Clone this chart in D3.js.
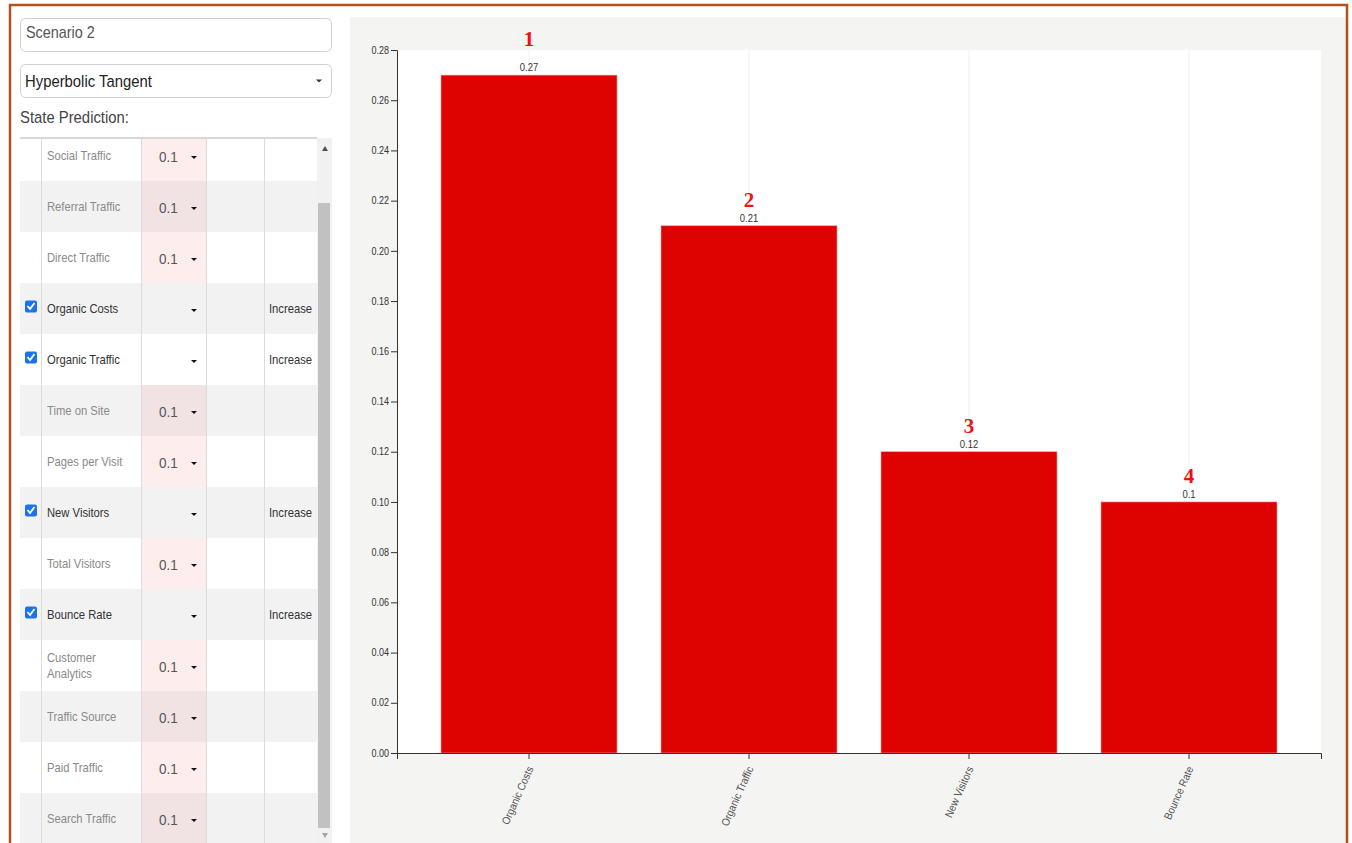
<!DOCTYPE html>
<html>
<head>
<meta charset="utf-8">
<script src="https://cdn.jsdelivr.net/npm/d3@7"></script>
<style>
  html, body { margin: 0; padding: 0; background: #fff; }
  svg { display: block; font-family: "Liberation Sans", Arial, sans-serif; }
</style>
</head>
<body>
<svg id="root" width="1352" height="843"></svg>
<script>
// Chart data: prediction weight per selected state, ranked
const categories = ["Organic Costs", "Organic Traffic", "New Visitors", "Bounce Rate"];
const values = [0.27, 0.21, 0.12, 0.1];
const ranks = [1, 2, 3, 4];
const yTicks = [0, 0.02, 0.04, 0.06, 0.08, 0.10, 0.12, 0.14, 0.16, 0.18, 0.20, 0.22, 0.24, 0.26, 0.28];

// Side panel: state prediction table
const stateNames = ["Social Traffic", "Referral Traffic", "Direct Traffic", "Organic Costs", "Organic Traffic",
  "Time on Site", "Pages per Visit", "New Visitors", "Total Visitors", "Bounce Rate",
  "Customer Analytics", "Traffic Source", "Paid Traffic", "Search Traffic"];
const stateChecked = [false, false, false, true, true, false, false, true, false, true, false, false, false, false];
const stateValues = ["0.1", "0.1", "0.1", "", "", "0.1", "0.1", "", "0.1", "", "0.1", "0.1", "0.1", "0.1"];
const stateActions = ["", "", "", "Increase", "Increase", "", "", "Increase", "", "Increase", "", "", "", ""];
const scenarioName = "Scenario 2";
const activation = "Hyperbolic Tangent";

const svg = d3.select("#root");
const SX = 0.9; // slightly condensed UI text

// text placed at (x, y) and narrowed horizontally around its anchor
function label(g, x, y, str, size, color, anchor) {
  return g.append("text")
    .attr("transform", `translate(${x},${y}) scale(${SX},1)`)
    .attr("font-size", size).attr("fill", color)
    .attr("text-anchor", anchor || "start")
    .text(str);
}

function caret(g, cx, cy, w, h, color) {
  g.append("path")
    .attr("d", `M${cx - w / 2},${cy - h / 2}L${cx + w / 2},${cy - h / 2}L${cx},${cy + h / 2}Z`)
    .attr("fill", color);
}

// ---------- side panel ----------
const panel = svg.append("g");

panel.append("rect").attr("x", 20.5).attr("y", 18.5).attr("width", 311).attr("height", 33)
  .attr("rx", 5).attr("fill", "#fff").attr("stroke", "#d0d0d0");
label(panel, 26, 38, scenarioName, 16, "#555");

panel.append("rect").attr("x", 20.5).attr("y", 64.5).attr("width", 311).attr("height", 33)
  .attr("rx", 5).attr("fill", "#fff").attr("stroke", "#d0d0d0");
label(panel, 25, 87, activation, 16.5, "#222");
caret(panel, 319, 81, 6, 3, "#333");

label(panel, 20, 123, "State Prediction:", 16.5, "#444");

const rowTop = 130, rowH = 51, clipTop = 138;
svg.append("clipPath").attr("id", "tableClip")
  .append("rect").attr("x", 0).attr("y", clipTop).attr("width", 340).attr("height", 843 - clipTop);
const table = panel.append("g").attr("clip-path", "url(#tableClip)");

stateNames.forEach((name, i) => {
  const y = rowTop + i * rowH;
  const shaded = i % 2 === 1;
  table.append("rect").attr("x", 20).attr("y", y).attr("width", 297).attr("height", rowH)
    .attr("fill", shaded ? "#f2f2f2" : "#fff");
  if (stateValues[i]) {
    table.append("rect").attr("x", 141).attr("y", y).attr("width", 65).attr("height", rowH)
      .attr("fill", shaded ? "#f1e3e3" : "#fdeeed");
  }
  const cy = y + rowH / 2;
  if (stateChecked[i]) {
    table.append("rect").attr("x", 25).attr("y", cy - 8).attr("width", 12).attr("height", 12)
      .attr("rx", 2).attr("fill", "#1a73e8");
    table.append("path").attr("d", `M27.5,${cy - 2.5}L30,${cy + 0.5}L34.5,${cy - 5.5}`)
      .attr("fill", "none").attr("stroke", "#fff").attr("stroke-width", 1.8);
  }
  const nameColor = stateChecked[i] ? "#333" : "#8a8a8a";
  const parts = name === "Customer Analytics" ? ["Customer", "Analytics"] : [name];
  const firstBase = parts.length > 1 ? cy - 4 : cy + 4;
  parts.forEach((p, k) => label(table, 47, firstBase + k * 16, p, 12.5, nameColor));
  if (stateValues[i]) label(table, 159, cy + 6.5, stateValues[i], 15, "#555");
  caret(table, 194, cy + 2, 6, 3, "#111");
  if (stateActions[i]) label(table, 269, cy + 4, stateActions[i], 12.5, "#333");
});
[41, 141, 206, 264].forEach(x => {
  table.append("line").attr("x1", x + 0.5).attr("x2", x + 0.5).attr("y1", clipTop).attr("y2", 843)
    .attr("stroke", "#dcdcdc");
});
panel.append("line").attr("x1", 20).attr("x2", 317).attr("y1", clipTop).attr("y2", clipTop)
  .attr("stroke", "#d8d8d8").attr("stroke-width", 2);

// scrollbar
panel.append("rect").attr("x", 317).attr("y", clipTop).attr("width", 15).attr("height", 843 - clipTop).attr("fill", "#f1f1f1");
panel.append("rect").attr("x", 318).attr("y", 203).attr("width", 12).attr("height", 625).attr("fill", "#c1c1c1");
panel.append("path").attr("d", "M322,151L328,151L325,146Z").attr("fill", "#505050");
panel.append("path").attr("d", "M322,833L328,833L325,838Z").attr("fill", "#a3a3a3");

// ---------- chart ----------
svg.append("rect").attr("x", 350).attr("y", 17).attr("width", 996).attr("height", 826).attr("fill", "#f4f4f2");

const plot = { left: 397, top: 50, right: 1321, bottom: 753 };
svg.append("rect").attr("x", plot.left).attr("y", plot.top)
  .attr("width", plot.right - plot.left).attr("height", plot.bottom - plot.top).attr("fill", "#fff");

const x = d3.scaleBand().domain(categories).range([plot.left, plot.right]).paddingInner(0.2).paddingOuter(0.2);
const y = d3.scaleLinear().domain([0, 0.28]).range([plot.bottom, plot.top]);

// vertical grid at category centers
svg.append("g").selectAll("line").data(categories).join("line")
  .attr("x1", d => x(d) + x.bandwidth() / 2).attr("x2", d => x(d) + x.bandwidth() / 2)
  .attr("y1", plot.top).attr("y2", plot.bottom).attr("stroke", "#f0f0f0");

const rows = categories.map((c, i) => ({ c, v: values[i], r: ranks[i] }));

svg.append("g").selectAll("rect").data(rows).join("rect")
  .attr("x", d => x(d.c)).attr("y", d => y(d.v))
  .attr("width", x.bandwidth()).attr("height", d => y(0) - y(d.v))
  .attr("fill", "#de0300").attr("stroke", "#f3a0a0").attr("stroke-width", 0.6);

// value labels
const valG = svg.append("g");
rows.forEach(d => label(valG, x(d.c) + x.bandwidth() / 2, y(d.v) - 4, String(d.v), 10.5, "#333", "middle"));

// rank labels; when one would cut into the plot's top edge it moves above it
const rankSize = 21;
function rankY(v) {
  const base = y(v) - 19;
  return base - rankSize * 0.75 < plot.top ? plot.top - 4 : base;
}
svg.append("g").selectAll("text").data(rows).join("text")
  .attr("x", d => x(d.c) + x.bandwidth() / 2)
  .attr("y", d => rankY(d.v))
  .attr("text-anchor", "middle").attr("font-size", rankSize).attr("font-weight", "bold")
  .attr("font-family", "'Liberation Serif', 'DejaVu Serif', serif").attr("fill", "#f50f0f")
  .text(d => d.r);

const yAxis = svg.append("g").attr("transform", `translate(${plot.left},0)`)
  .call(d3.axisLeft(y).tickValues(yTicks).tickFormat(d3.format(".2f")).tickSize(6).tickPadding(3));
yAxis.selectAll("text").attr("font-size", 10).attr("fill", "#333")
  .attr("font-family", "'Liberation Sans', Arial, sans-serif")
  .attr("transform", "scale(0.9,1)");
yAxis.selectAll("line, path").attr("stroke", "#333");

const xAxis = svg.append("g").attr("transform", `translate(0,${plot.bottom})`)
  .call(d3.axisBottom(x).tickSize(6));
xAxis.selectAll("line, path").attr("stroke", "#333");
xAxis.selectAll("text")
  .attr("font-size", 11).attr("fill", "#555").attr("font-family", "'Liberation Sans', Arial, sans-serif")
  .attr("text-anchor", "end").attr("x", 0).attr("y", 0).attr("dx", "-0.2em").attr("dy", "0.35em")
  .attr("transform", "translate(2,12) rotate(-66) scale(0.9,1)");

// ---------- outer frame ----------
svg.append("path").attr("d", "M10,850L10,5L1347,5L1347,850")
  .attr("fill", "none").attr("stroke", "#b0521f").attr("stroke-width", 2.5);
</script>
</body>
</html>
